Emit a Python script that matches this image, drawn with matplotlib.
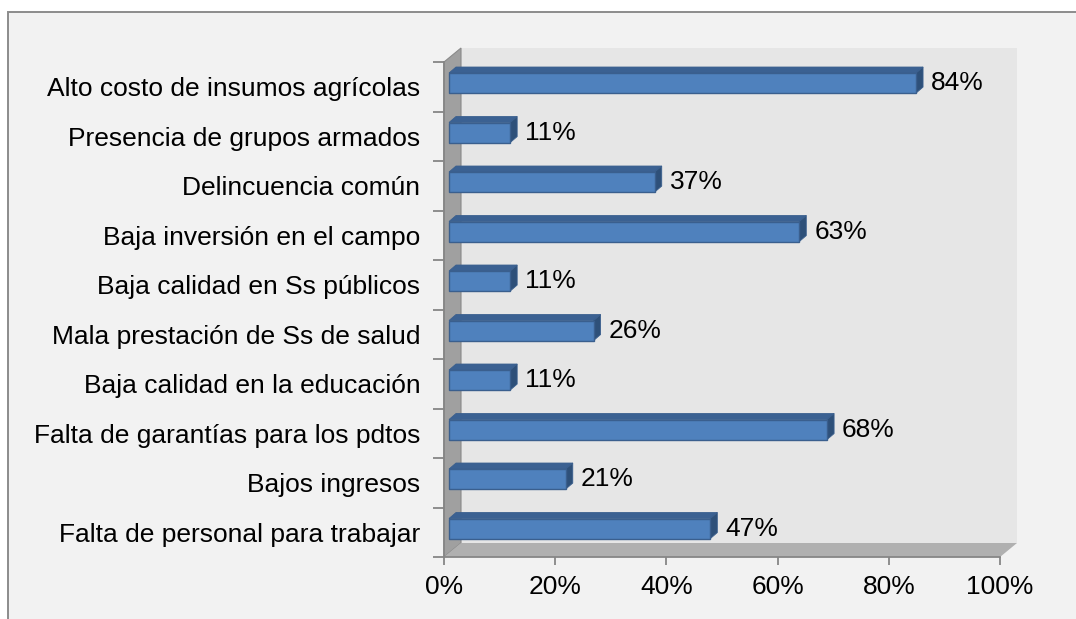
import matplotlib
matplotlib.use("Agg")
import matplotlib.pyplot as plt
from matplotlib.patches import Polygon, Rectangle

# ---- data (top to bottom as displayed) ----
categories = [
    "Alto costo de insumos agrícolas",
    "Presencia de grupos armados",
    "Delincuencia común",
    "Baja inversión en el campo",
    "Baja calidad en Ss públicos",
    "Mala prestación de Ss de salud",
    "Baja calidad en la educación",
    "Falta de garantías para los pdtos",
    "Bajos ingresos",
    "Falta de personal para trabajar",
]
values = [84, 11, 37, 63, 11, 26, 11, 68, 21, 47]
xticks = [0, 20, 40, 60, 80, 100]
xtick_labels = ["0%", "20%", "40%", "60%", "80%", "100%"]

plt.rcParams["font.family"] = ["Liberation Sans", "DejaVu Sans"]
FS = 19

W, H = 1076, 619
fig = plt.figure(figsize=(W / 100, H / 100), dpi=100)
fig.patch.set_facecolor("white")

# chart area with border (cut by image on right/bottom)
fig.add_artist(Rectangle((8 / W, -0.1), 1.2, (H - 12) / H + 0.1,
                         transform=fig.transFigure, fc="#f2f2f2",
                         ec="#8c8c8c", lw=1.4, zorder=0))

# front plane of the 3-D plot box in pixels
x0, x1 = 444, 1000
ytop, ybot = 62, 557
ax = fig.add_axes([x0 / W, (H - ybot) / H, (x1 - x0) / W, (ybot - ytop) / H])
ax.set_facecolor("none")

n = len(categories)
ypos = [n - 1 - i for i in range(n)]
ax.set_xlim(0, 100)
ax.set_ylim(-0.5, n - 0.5)

px_x = 100 / (x1 - x0)          # data units per pixel (x)
px_y = n / (ybot - ytop)        # data units per pixel (y)

# wall depth
DX, DY = 17 * px_x, 14 * px_y
ylo, yhi = -0.5, n - 0.5

back = Rectangle((DX, ylo + DY), 100, n, fc="#e6e6e6", ec="none",
                 clip_on=False, zorder=1)
ax.add_patch(back)
left = Polygon([(0, ylo), (DX, ylo + DY), (DX, yhi + DY), (0, yhi)],
               closed=True, fc="#a0a0a0", ec="#8a8a8a", lw=0.8,
               clip_on=False, zorder=2)
ax.add_patch(left)
floor = Polygon([(0, ylo), (DX, ylo + DY), (100 + DX, ylo + DY), (100, ylo)],
                closed=True, fc="#b0b0b0", ec="none",
                clip_on=False, zorder=2)
ax.add_patch(floor)

# bars
bx, by = 5 * px_x, 3.7 * px_y       # front face shift into depth
bdx, bdy = 7 * px_x, 6 * px_y       # bar depth
h = 0.405
front_c, top_c, side_c, edge_c = "#4f81bd", "#3b6192", "#2e5079", "#3a5f8e"

for y, v in zip(ypos, values):
    yc = y + by
    ax.barh(yc, v, left=bx, height=h, color=front_c, edgecolor=edge_c,
            linewidth=1.0, zorder=4)
    top = Polygon([(bx, yc + h / 2), (bx + bdx, yc + h / 2 + bdy),
                   (bx + v + bdx, yc + h / 2 + bdy), (bx + v, yc + h / 2)],
                  closed=True, fc=top_c, ec=edge_c, lw=0.6, zorder=3)
    ax.add_patch(top)
    side = Polygon([(bx + v, yc - h / 2), (bx + v, yc + h / 2),
                    (bx + v + bdx, yc + h / 2 + bdy), (bx + v + bdx, yc - h / 2 + bdy)],
                   closed=True, fc=side_c, ec=edge_c, lw=0.6, zorder=3)
    ax.add_patch(side)
    ax.text(bx + v + bdx + 8 * px_x, yc, f"{v}%", ha="left", va="center",
            fontsize=FS, color="black", zorder=5)

# axes styling
for s in ["top", "right"]:
    ax.spines[s].set_visible(False)
for s in ["left", "bottom"]:
    ax.spines[s].set_color("#868686")
    ax.spines[s].set_linewidth(1.3)
    ax.spines[s].set_zorder(3)

ax.set_xticks(xticks)
ax.set_xticklabels(xtick_labels, fontsize=FS)
ax.tick_params(axis="x", direction="out", length=6, width=1.3,
               color="#868686", pad=7)

ax.set_yticks(ypos)
ax.set_yticklabels(categories, fontsize=FS)
ax.tick_params(axis="y", which="major", length=0, pad=17)
ax.set_yticks([k - 0.5 for k in range(n + 1)], minor=True)
ax.tick_params(axis="y", which="minor", direction="out", length=8,
               width=1.3, color="#868686")

fig.savefig("out.png", dpi=100)
